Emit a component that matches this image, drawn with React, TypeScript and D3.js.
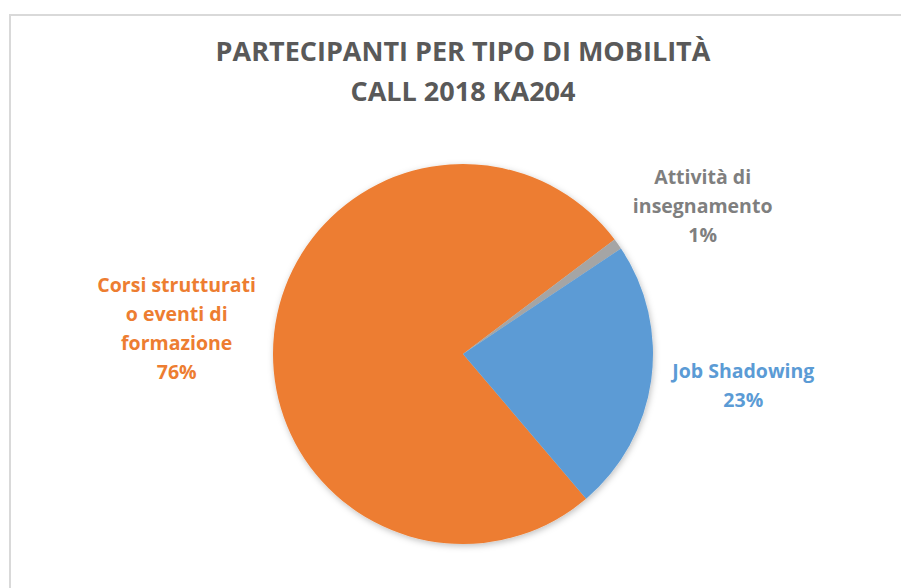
import React from 'react';
import * as d3 from 'd3';

// Data
const categories = ['Corsi strutturati o eventi di formazione', 'Attività di insegnamento', 'Job Shadowing'];
const values = [82, 1, 25];
const labelLines = [
  ['Corsi strutturati', 'o eventi di', 'formazione'],
  ['Attività di', 'insegnamento'],
  ['Job Shadowing'],
];
const colors = ['#ED7D31', '#A5A5A5', '#5B9BD5'];
const labelColors = ['#ED7D31', '#7F7F7F', '#5B9BD5'];
const titleLines = ['PARTECIPANTI PER TIPO DI MOBILITÀ', 'CALL 2018 KA204'];

const WIDTH = 901;
const HEIGHT = 588;
const cx = 463;
const cy = 354;
const radius = 190;
const labelRadius = 283;
const lineHeight = 29;
// small nudges so labels land where Excel's best-fit put them
const labelNudge = [
  [-5, 5],
  [9, 16],
  [0, -8],
];

export default function App(): React.ReactElement {
  const total = d3.sum(values);
  const start = (139.6 * Math.PI) / 180;
  const pie = d3.pie<number>().sort(null).startAngle(start).endAngle(start + 2 * Math.PI);
  const arcs = pie(values);
  const arc = d3.arc<d3.PieArcDatum<number>>().innerRadius(0).outerRadius(radius);
  const labelArc = d3.arc<d3.PieArcDatum<number>>().innerRadius(labelRadius).outerRadius(labelRadius);

  const font = "'Open Sans', 'DejaVu Sans', sans-serif";

  return (
    <svg width={WIDTH} height={HEIGHT} style={{ position: 'absolute', left: 0, top: 0 }}>
      <defs>
        <filter id="pie-shadow" x="-20%" y="-20%" width="140%" height="140%">
          <feDropShadow dx="1" dy="2" stdDeviation="3" floodColor="#000" floodOpacity="0.25" />
        </filter>
      </defs>
      <rect width={WIDTH} height={HEIGHT} fill="#fff" />
      <rect x={10} y={15} width={1200} height={1200} fill="#fff" stroke="#d9d9d9" strokeWidth={2} />

      {titleLines.map((t, i) => (
        <text
          key={t}
          x={cx}
          y={61 + i * 40}
          textAnchor="middle"
          fontFamily={font}
          fontWeight={700}
          fontSize={27}
          fill="#595959"
        >
          {t}
        </text>
      ))}

      <g transform={`translate(${cx},${cy})`} filter="url(#pie-shadow)">
        {arcs.map((a, i) => (
          <path key={categories[i]} d={arc(a) ?? ''} fill={colors[i]} />
        ))}
      </g>

      {arcs.map((a, i) => {
        const [lx, ly] = labelArc.centroid(a);
        const x = cx + lx + labelNudge[i][0];
        const y = cy + ly + labelNudge[i][1];
        const lines = [...labelLines[i], `${Math.round((values[i] / total) * 100)}%`];
        const n = lines.length;
        return (
          <text
            key={categories[i]}
            textAnchor="middle"
            fontFamily={font}
            fontWeight={700}
            fontSize={19.5}
            fill={labelColors[i]}
          >
            {lines.map((l, j) => (
              <tspan key={j} x={x} y={y + (j - (n - 1) / 2) * lineHeight + 7}>
                {l}
              </tspan>
            ))}
          </text>
        );
      })}
    </svg>
  );
}
